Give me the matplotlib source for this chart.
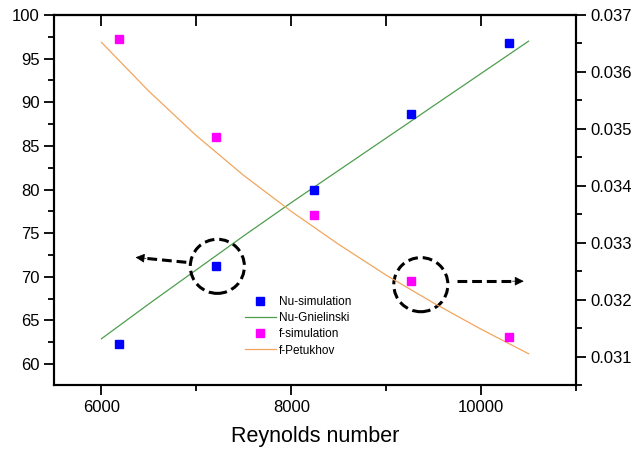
import matplotlib
matplotlib.use("Agg")
import matplotlib.pyplot as plt
from matplotlib.patches import Ellipse
from matplotlib.ticker import MultipleLocator
import numpy as np

plt.rcParams['font.family'] = ['Liberation Sans', 'DejaVu Sans']

# simulation points
re_sim = [6180, 7210, 8235, 9265, 10295]
nu_sim = [62.3, 71.2, 80.0, 88.6, 96.8]
f_sim = [0.03657, 0.03486, 0.03348, 0.03233, 0.03135]

# correlation curves
re_corr = [6000, 6500, 7000, 7500, 8000, 8500, 9000, 9500, 10000, 10500]
nu_gniel = [62.9, 66.9, 70.8, 74.7, 78.5, 82.2, 85.9, 89.6, 93.3, 97.0]
f_petuk = [0.03652, 0.03566, 0.03488, 0.03418, 0.03355, 0.03297, 0.03243, 0.03194, 0.03148, 0.03105]

fig = plt.figure(figsize=(6.36, 4.57), dpi=100)
ax = fig.add_axes([0.0849, 0.1575, 0.8208, 0.8097])
ax2 = ax.twinx()

h1, = ax.plot(re_sim, nu_sim, 's', color='#0000ff', ms=6, mec='#0000ff', label='Nu-simulation', zorder=5)
h2, = ax.plot(re_corr, nu_gniel, '-', color='#4e9e4e', lw=0.9, label='Nu-Gnielinski')
h3, = ax2.plot(re_sim, f_sim, 's', color='#ff00ff', ms=6, mec='#ff00ff', label='f-simulation', zorder=5)
h4, = ax2.plot(re_corr, f_petuk, '-', color='#f2a55e', lw=0.9, label='f-Petukhov')

ax.set_xlim(5500, 11000)
ax.set_ylim(57.6, 100)
ax2.set_ylim(0.0305, 0.037)

ax.xaxis.set_major_locator(MultipleLocator(2000))
ax.xaxis.set_minor_locator(MultipleLocator(1000))
ax.yaxis.set_major_locator(MultipleLocator(5))
ax.yaxis.set_minor_locator(MultipleLocator(2.5))
ax2.yaxis.set_major_locator(MultipleLocator(0.001))
ax2.yaxis.set_minor_locator(MultipleLocator(0.0005))

ax.tick_params(which='major', direction='out', length=7, width=1.3, labelsize=12)
ax.tick_params(which='minor', direction='out', length=4, width=1.3)
ax2.tick_params(which='major', direction='out', length=7, width=1.3, labelsize=12)
ax2.tick_params(which='minor', direction='out', length=4, width=1.3)

top = ax.secondary_xaxis('top')
top.xaxis.set_major_locator(MultipleLocator(1000))
top.tick_params(direction='in', length=8, width=1.3, labeltop=False)
top.spines['top'].set_linewidth(1.5)

for a in (ax, ax2):
    for s in a.spines.values():
        s.set_linewidth(1.5)

ax.set_xlabel('Reynolds number', fontsize=15.5, labelpad=8)

# dashed circles and arrows
dash = (0, (3.2, 1.6))
ax.add_patch(Ellipse((7221, 71.2), 570, 6.2, fill=False, ec='k', lw=2.2, ls=dash, zorder=6))
ax.add_patch(Ellipse((9365, 69.1), 570, 6.2, fill=False, ec='k', lw=2.2, ls=dash, zorder=6))

ax.plot([6894, 6460], [71.66, 72.12], color='k', lw=2.2, ls=dash)
ax.annotate('', xy=(6359, 72.23), xytext=(6470, 72.11),
            arrowprops=dict(arrowstyle='-|>', color='k', lw=0.5, mutation_scale=14, shrinkA=0, shrinkB=0))
ax.plot([9741, 10340], [69.5, 69.5], color='k', lw=2.2, ls=dash)
ax.annotate('', xy=(10449, 69.5), xytext=(10330, 69.5),
            arrowprops=dict(arrowstyle='-|>', color='k', lw=0.5, mutation_scale=14, shrinkA=0, shrinkB=0))

leg = ax2.legend([h1, h2, h3, h4], ['Nu-simulation', 'Nu-Gnielinski', 'f-simulation', 'f-Petukhov'],
                 loc='upper left', bbox_to_anchor=(0.366, 0.24), frameon=False, fontsize=8.5,
                 borderpad=0, borderaxespad=0, handlelength=2.6, handletextpad=0.25,
                 labelspacing=0.35, markerscale=1.0)

fig.savefig('out.png', dpi=100)
